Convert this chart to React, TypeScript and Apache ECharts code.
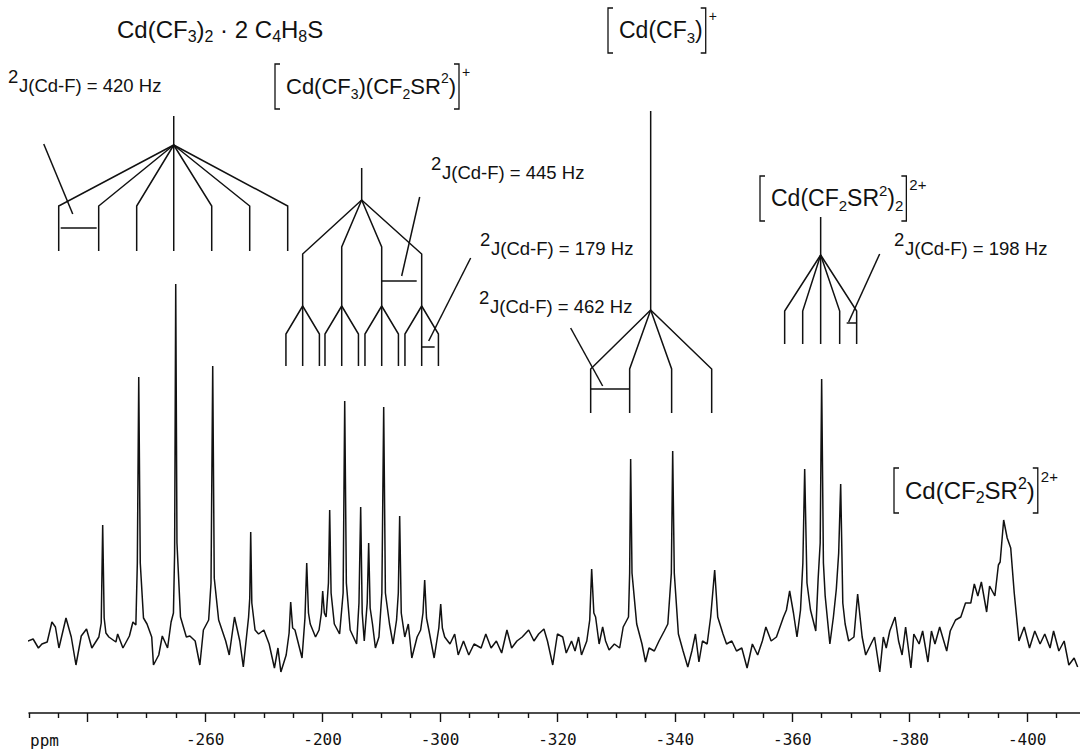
import React, { useEffect, useRef } from 'react';
import * as echarts from 'echarts';

// ---------- data: 19F-NMR trace [ppm, intensity] ----------
const spectrum: [number, number][] = [
  [-229.8, 72], [-230.7, 74], [-231.6, 65], [-232.2, 69], [-233.1, 71], [-233.9, 91], [-234.5, 86],
  [-235.1, 65], [-236.3, 95], [-237.2, 76], [-238.0, 48], [-238.9, 77], [-239.8, 84], [-240.7, 65],
  [-241.9, 76], [-242.3, 90], [-242.55, 188], [-242.8, 95], [-243.1, 80], [-243.6, 76], [-244.8, 71],
  [-245.1, 79], [-246.0, 65], [-247.1, 77], [-247.7, 91], [-248.2, 88], [-248.45, 150], [-248.69, 336],
  [-248.95, 150], [-249.5, 95], [-250.1, 89], [-250.9, 76], [-251.2, 48], [-252.1, 58], [-252.7, 77],
  [-253.6, 65], [-254.2, 91], [-254.6, 100], [-254.8, 160], [-254.99, 429], [-255.2, 170], [-255.8, 96],
  [-256.8, 76], [-257.4, 77], [-258.3, 72], [-259.1, 48], [-259.7, 83], [-260.6, 93], [-261.0, 130],
  [-261.29, 347], [-261.55, 135], [-262.3, 93], [-263.5, 72], [-264.1, 58], [-265.0, 96], [-265.9, 72],
  [-266.5, 46], [-267.4, 96], [-267.6, 115], [-267.76, 181], [-267.95, 110], [-268.5, 83], [-269.1, 79],
  [-270.0, 83], [-270.9, 69], [-271.8, 45], [-272.4, 65], [-272.9, 41], [-273.8, 58], [-274.3, 80],
  [-274.57, 111], [-274.9, 85], [-275.3, 83], [-276.5, 55], [-277.0, 95], [-277.3, 150], [-277.6, 100],
  [-277.9, 89], [-278.8, 76], [-279.4, 83], [-279.8, 100], [-280.02, 122], [-280.3, 100], [-280.6, 96],
  [-281.0, 130], [-281.21, 203], [-281.45, 120], [-282.0, 89], [-282.9, 79], [-283.5, 120], [-283.77, 312],
  [-284.05, 130], [-284.7, 83], [-285.8, 69], [-286.2, 110], [-286.49, 206], [-286.75, 100], [-287.1, 72],
  [-287.6, 110], [-287.85, 170], [-288.1, 105], [-288.5, 89], [-289.0, 65], [-289.6, 76], [-290.1, 120],
  [-290.41, 306], [-290.7, 120], [-291.4, 89], [-292.0, 69], [-292.6, 93], [-292.9, 120], [-293.13, 197],
  [-293.4, 100], [-294.0, 76], [-294.6, 89], [-295.2, 55], [-296.1, 76], [-296.7, 83], [-297.1, 100],
  [-297.39, 133], [-297.7, 95], [-298.1, 83], [-299.0, 55], [-299.8, 85], [-300.12, 109], [-300.4, 85],
  [-300.8, 76], [-301.7, 69], [-302.5, 79], [-303.1, 58], [-304.0, 72], [-304.9, 58], [-305.8, 69],
  [-307.0, 65], [-307.8, 79], [-308.7, 65], [-309.6, 72], [-310.5, 60], [-311.4, 83], [-312.2, 65],
  [-313.1, 72], [-314.0, 76], [-315.1, 83], [-316.0, 72], [-316.8, 79], [-317.7, 84], [-318.3, 72],
  [-319.2, 48], [-320.0, 79], [-320.9, 76], [-321.5, 60], [-322.4, 72], [-323.0, 62], [-323.6, 76],
  [-324.1, 58], [-325.0, 72], [-325.5, 93], [-325.83, 144], [-326.2, 100], [-326.5, 96], [-327.1, 69],
  [-327.7, 86], [-328.2, 72], [-328.8, 63], [-329.7, 69], [-330.6, 65], [-331.2, 86], [-332.1, 96],
  [-332.3, 140], [-332.47, 254], [-332.7, 140], [-333.5, 89], [-334.4, 69], [-335.0, 51], [-335.6, 65],
  [-336.5, 62], [-337.3, 72], [-338.2, 82], [-338.8, 89], [-339.4, 140], [-339.63, 262], [-339.9, 140],
  [-340.6, 79], [-341.4, 62], [-342.2, 46], [-342.9, 62], [-343.5, 79], [-344.1, 51], [-344.7, 72],
  [-345.5, 69], [-346.1, 96], [-346.78, 143], [-347.3, 96], [-348.2, 79], [-348.8, 69], [-349.7, 72],
  [-350.5, 62], [-351.4, 65], [-352.3, 45], [-353.2, 69], [-354.1, 58], [-354.9, 72], [-355.5, 86],
  [-356.4, 72], [-357.3, 76], [-358.5, 96], [-359.0, 103], [-359.55, 122], [-360.2, 100], [-360.8, 76],
  [-361.4, 103], [-361.8, 150], [-362.11, 244], [-362.5, 130], [-363.1, 103], [-364.0, 82], [-364.4, 134],
  [-364.75, 170], [-365.0, 334], [-365.3, 150], [-365.6, 117], [-366.4, 69], [-367.0, 96], [-367.5, 124],
  [-367.9, 160], [-368.24, 229], [-368.6, 110], [-369.0, 89], [-369.6, 72], [-370.5, 76], [-371.13, 119],
  [-371.9, 76], [-372.5, 58], [-373.4, 69], [-374.0, 76], [-374.9, 41], [-375.5, 76], [-376.0, 65],
  [-376.6, 82], [-377.5, 96], [-378.1, 72], [-378.7, 58], [-379.3, 86], [-380.2, 45], [-380.7, 79],
  [-381.6, 69], [-382.2, 82], [-383.1, 51], [-383.7, 82], [-384.3, 69], [-385.1, 86], [-386.3, 62],
  [-386.9, 82], [-387.8, 93], [-388.7, 96], [-389.5, 110], [-390.4, 110], [-391.0, 129], [-391.6, 117],
  [-392.2, 131], [-393.1, 101], [-393.6, 127], [-394.5, 117], [-395.1, 148], [-395.4, 151], [-396.0, 193],
  [-396.6, 175], [-397.2, 165], [-397.8, 120], [-398.6, 72], [-399.5, 86], [-400.4, 65], [-401.3, 82],
  [-402.2, 69], [-403.0, 79], [-403.9, 65], [-404.5, 82], [-405.4, 62], [-406.3, 72], [-407.1, 48],
  [-408.0, 55], [-408.6, 46],
];

// ---------- axis ticks ----------
const majorTicks = [-240, -260, -280, -300, -320, -340, -360, -380, -400];
const labelValues = [-260, -280, -300, -320, -340, -360, -380, -400];
const tickLabels = ['-260', '-200', '-300', '-320', '-340', '-360', '-380', '-400'];
const minorTicks = [-230, -235, -245, -250, -255, -265, -270, -275, -285, -290, -295, -305, -310, -315,
  -325, -330, -335, -345, -350, -355, -365, -370, -375, -385, -390, -395, -405];

// ---------- splitting trees (ppm, intensity) ----------
const septetStem = { x: -254.65, top: 597, apex: 568 };
const septetLines = [-235.06, -241.87, -248.34, -254.65, -261.12, -267.59, -274.06];
const septetShoulder = 507, septetBottom = 462;

const qtStem = { x: -286.66, top: 545, apex: 513 };
const qtQuartet = [-276.61, -283.26, -290.07, -296.88];
const qtShoulders = [459, 466, 466, 459];
const qtTripApex = 407, qtTripShoulder = 379, qtTripBottom = 347, qtTripHalf = 2.85;

const qStem = { x: -335.88, top: 602, apex: 403 };
const qLines = [-325.66, -332.30, -339.45, -346.27];
const qShoulder = 344, qBottom = 300;

const quinStem = { x: -364.83, top: 496, apex: 458 };
const quinLines = [-358.70, -361.77, -364.83, -368.07, -370.96];
const quinShoulder = 402, quinBottom = 369;

const markers: [number, number][][] = [
  [[-235.40, 485], [-241.53, 485]], [[-232.51, 569], [-237.45, 499]],
  [[-290.07, 432], [-296.03, 432]], [[-296.54, 516], [-293.47, 437]],
  [[-296.88, 366], [-299.09, 366]], [[-305.22, 455], [-298.07, 372]],
  [[-325.66, 324], [-332.30, 324]], [[-322.25, 385], [-327.70, 327]],
  [[-369.26, 390], [-370.96, 390]], [[-374.88, 459], [-369.60, 391]],
];

function buildTrees(): [number, number][][] {
  const out: [number, number][][] = [];
  out.push([[septetStem.x, septetStem.top], [septetStem.x, septetStem.apex]]);
  septetLines.forEach((s) => out.push([[septetStem.x, septetStem.apex], [s, septetShoulder], [s, septetBottom]]));
  out.push([[qtStem.x, qtStem.top], [qtStem.x, qtStem.apex]]);
  qtQuartet.forEach((q, i) => {
    out.push([[qtStem.x, qtStem.apex], [q, qtShoulders[i]], [q, qtTripApex]]);
    [-qtTripHalf, 0, qtTripHalf].forEach((d) =>
      out.push([[q, qtTripApex], [q + d, qtTripShoulder], [q + d, qtTripBottom]]));
  });
  out.push([[qStem.x, qStem.top], [qStem.x, qStem.apex]]);
  qLines.forEach((s) => out.push([[qStem.x, qStem.apex], [s, qShoulder], [s, qBottom]]));
  out.push([[quinStem.x, quinStem.top], [quinStem.x, quinStem.apex]]);
  quinLines.forEach((s) => out.push([[quinStem.x, quinStem.apex], [s, quinShoulder], [s, quinBottom]]));
  markers.forEach((m) => out.push(m));
  return out;
}

// ---------- text annotations ----------
const FONT = '"Liberation Sans", Arial, Helvetica, sans-serif';
const INK = '#111';
const SUB_RATIO = 0.65;

type Seg = [string, string];
const titleSegs: Seg[] = [['n', 'Cd(CF'], ['sub', '3'], ['n', ')'], ['sub', '2'], ['n', ' · 2 C'], ['sub', '4'], ['n', 'H'], ['sub', '8'], ['n', 'S']];
const mixedSegs: Seg[] = [['n', 'Cd(CF'], ['sub', '3'], ['n', ')(CF'], ['sub', '2'], ['n', 'SR'], ['sup', '2'], ['n', ')']];
const cf3Segs: Seg[] = [['n', 'Cd(CF'], ['sub', '3'], ['n', ')']];
const bisSegs: Seg[] = [['n', 'Cd(CF'], ['sub', '2'], ['n', 'SR'], ['sup', '2'], ['n', ')'], ['sub', '2']];
const monoSegs: Seg[] = [['n', 'Cd(CF'], ['sub', '2'], ['n', 'SR'], ['sup', '2'], ['n', ')']];

const formulas = [
  { segs: titleSegs, x: 117, y: 29, size: 24, bracket: false, charge: '' },
  { segs: mixedSegs, x: 286, y: 86, size: 22, bracket: true, charge: '+' },
  { segs: cf3Segs, x: 619, y: 30, size: 23, bracket: true, charge: '+' },
  { segs: bisSegs, x: 771, y: 198, size: 23, bracket: true, charge: '2+' },
  { segs: monoSegs, x: 905, y: 490, size: 24, bracket: true, charge: '2+' },
];

const couplings = [
  { text: 'J(Cd-F) = 420 Hz', x: 8, y: 85 },
  { text: 'J(Cd-F) = 445 Hz', x: 431, y: 172 },
  { text: 'J(Cd-F) = 179 Hz', x: 480, y: 248 },
  { text: 'J(Cd-F) = 462 Hz', x: 479, y: 306 },
  { text: 'J(Cd-F) = 198 Hz', x: 894, y: 248 },
];
const J_SIZE = 18.5;

function richFor(size: number) {
  const s = Math.round(size * SUB_RATIO);
  return {
    n: { fontSize: size, lineHeight: 30, fontFamily: FONT, fill: INK },
    sub: { fontSize: s, lineHeight: 15, fontFamily: FONT, fill: INK, verticalAlign: 'bottom' },
    sup: { fontSize: s, lineHeight: 20, fontFamily: FONT, fill: INK, verticalAlign: 'top' },
  };
}

function measure(segs: Seg[], size: number): number {
  const c = document.createElement('canvas').getContext('2d');
  if (!c) return 0;
  let w = 0;
  segs.forEach(([k, t]) => {
    c.font = `${k === 'n' ? size : Math.round(size * SUB_RATIO)}px ${FONT}`;
    w += c.measureText(t).width;
  });
  return w;
}

function buildGraphics(): any[] {
  const els: any[] = [];
  formulas.forEach((f) => {
    els.push({
      type: 'text', x: f.x, y: f.y,
      style: { text: f.segs.map(([k, t]) => `{${k}|${t}}`).join(''), rich: richFor(f.size), verticalAlign: 'middle', align: 'left', fontFamily: FONT, fill: INK },
    });
    if (f.bracket) {
      const top = f.y - 22, bot = f.y + 23;
      const lx = f.x - 11;
      const rx = f.x + measure(f.segs, f.size) + 3;
      els.push({ type: 'polyline', shape: { points: [[lx + 5, top], [lx, top], [lx, bot], [lx + 5, bot]] }, style: { stroke: INK, lineWidth: 1.3, fill: null } });
      els.push({ type: 'polyline', shape: { points: [[rx - 5, top], [rx, top], [rx, bot], [rx - 5, bot]] }, style: { stroke: INK, lineWidth: 1.3, fill: null } });
      els.push({ type: 'text', x: rx + 3, y: top + 8, style: { text: f.charge, fontSize: f.charge.length > 1 ? 15 : 14, fontFamily: FONT, fill: INK, verticalAlign: 'middle' } });
    }
  });
  couplings.forEach((c) => {
    els.push({ type: 'text', x: c.x, y: c.y - 9, style: { text: '2', fontSize: J_SIZE, fontFamily: FONT, fill: INK, verticalAlign: 'middle' } });
    els.push({ type: 'text', x: c.x + 11, y: c.y, style: { text: c.text, fontSize: J_SIZE, fontFamily: FONT, fill: INK, verticalAlign: 'middle' } });
  });
  els.push({ type: 'text', x: 30, y: 740, style: { text: 'ppm', fontSize: 16, fontFamily: '"DejaVu Sans Mono", monospace', fill: INK, verticalAlign: 'middle' } });
  return els;
}

export default function App() {
  const ref = useRef<HTMLDivElement>(null);
  useEffect(() => {
    if (!ref.current) return;
    const chart = echarts.init(ref.current, undefined, { renderer: 'svg' });
    const axisBase = {
      type: 'value', min: -409, max: -230, inverse: true, position: 'bottom',
      splitLine: { show: false },
    };
    chart.setOption({
      animation: false,
      backgroundColor: '#fff',
      grid: { left: 29, right: 0, top: 0, bottom: 37 },
      xAxis: [
        {
          ...axisBase,
          axisLine: { show: true, lineStyle: { color: INK, width: 1.5 } },
          axisTick: { show: true, customValues: majorTicks, length: 9, inside: false, lineStyle: { color: INK, width: 1.4 } },
          axisLabel: {
            show: true, customValues: labelValues, margin: 18, color: INK, fontSize: 16,
            fontFamily: '"DejaVu Sans Mono", monospace',
            formatter: (v: number) => tickLabels[labelValues.indexOf(v)] ?? '',
          },
        },
        {
          ...axisBase,
          axisLine: { show: false },
          axisTick: { show: true, customValues: minorTicks, length: 5, inside: false, lineStyle: { color: INK, width: 1.4 } },
          axisLabel: { show: false },
        },
      ],
      yAxis: { type: 'value', min: 0, max: 713, show: false },
      series: [
        {
          type: 'line', data: spectrum, xAxisIndex: 0, yAxisIndex: 0, symbol: 'none', showSymbol: false,
          lineStyle: { color: INK, width: 1.5 }, silent: true,
        },
        {
          type: 'lines', coordinateSystem: 'cartesian2d', polyline: true, xAxisIndex: 0, yAxisIndex: 0,
          data: buildTrees().map((c) => ({ coords: c })),
          lineStyle: { color: INK, width: 1.5, opacity: 1 }, silent: true,
        },
      ],
      graphic: buildGraphics(),
    });
    return () => chart.dispose();
  }, []);
  return <div ref={ref} style={{ position: 'absolute', left: 0, top: 0, width: 1080, height: 750, background: '#fff' }} />;
}
